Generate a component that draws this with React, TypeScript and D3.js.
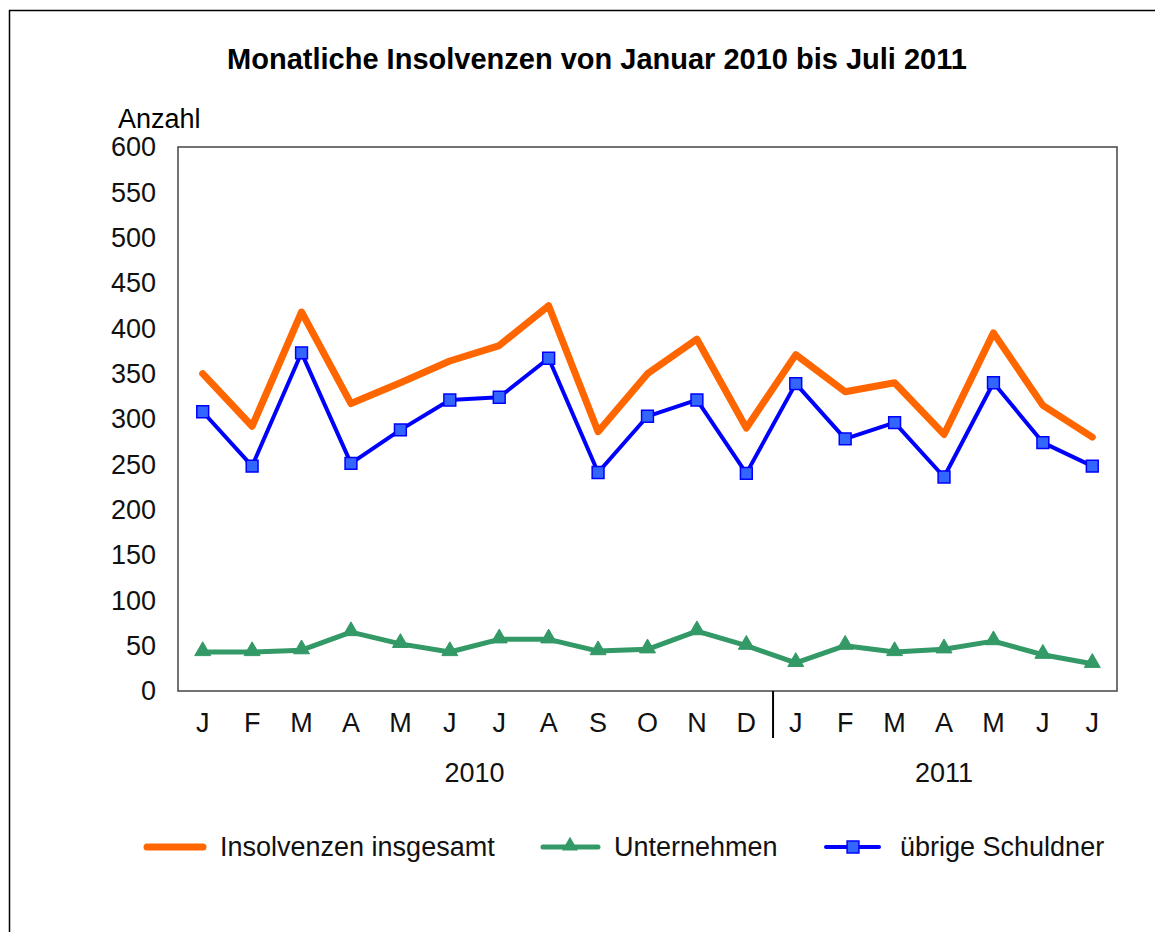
import React, { useEffect, useRef } from "react";
import * as d3 from "d3";

const months = ["J", "F", "M", "A", "M", "J", "J", "A", "S", "O", "N", "D", "J", "F", "M", "A", "M", "J", "J"];
const years = ["2010", "2011"];
const monthsPerYear = [12, 7];

const insgesamt = [350, 292, 418, 317, 340, 364, 381, 425, 286, 350, 388, 290, 371, 330, 340, 283, 395, 315, 280];
const unternehmen = [43, 43, 45, 65, 52, 43, 57, 57, 44, 46, 66, 50, 31, 50, 43, 46, 55, 40, 30];
const uebrige = [308, 248, 373, 251, 288, 321, 324, 367, 241, 303, 321, 240, 339, 278, 296, 236, 340, 274, 248];

const yTicks = [0, 50, 100, 150, 200, 250, 300, 350, 400, 450, 500, 550, 600];

const W = 1155, H = 932;
const left = 178, right = 1117, top = 147, bottom = 691;
const font = "'Liberation Sans', Arial, sans-serif";
const fs = 27;

const createChart = (node: SVGSVGElement) => {
  const svg = d3.select(node);
  svg.selectAll("*").remove();

  const idx = months.map((_, i) => i);
  const x = d3.scaleBand<number>().domain(idx).range([left, right]);
  const cx = (i: number) => (x(i) as number) + x.bandwidth() / 2;
  const y = d3.scaleLinear().domain([0, 600]).range([bottom, top]);

  // outer frame
  svg.append("rect")
    .attr("x", 9.5).attr("y", 10.5).attr("width", 1200).attr("height", 1000)
    .attr("fill", "#fff").attr("stroke", "#000").attr("stroke-width", 1.5);

  svg.append("text")
    .attr("x", 597).attr("y", 69)
    .attr("text-anchor", "middle")
    .attr("font-family", font).attr("font-weight", "bold").attr("font-size", 29)
    .text("Monatliche Insolvenzen von Januar 2010 bis Juli 2011");

  svg.append("text")
    .attr("x", 118).attr("y", 128)
    .attr("font-family", font).attr("font-size", fs)
    .text("Anzahl");

  // plot frame
  svg.append("rect")
    .attr("x", left).attr("y", top).attr("width", right - left).attr("height", bottom - top)
    .attr("fill", "none").attr("stroke", "#444").attr("stroke-width", 1.5);

  // y labels
  svg.append("g").selectAll("text").data(yTicks).join("text")
    .attr("x", 156).attr("y", (d) => y(d)).attr("dy", "0.35em")
    .attr("text-anchor", "end")
    .attr("font-family", font).attr("font-size", fs)
    .attr("fill", "#111")
    .text((d) => d);

  // month labels
  svg.append("g").selectAll("text").data(idx).join("text")
    .attr("x", (i) => cx(i)).attr("y", 732)
    .attr("text-anchor", "middle")
    .attr("font-family", font).attr("font-size", fs)
    .attr("fill", "#111")
    .text((i) => months[i]);

  // year separator + labels
  const sep = x(monthsPerYear[0]) as number;
  svg.append("line")
    .attr("x1", sep + 2).attr("x2", sep + 2).attr("y1", bottom).attr("y2", 738)
    .attr("stroke", "#000").attr("stroke-width", 2);

  let start = 0;
  years.forEach((yr, k) => {
    const n = monthsPerYear[k];
    const x0 = x(start) as number;
    const x1 = (x(start + n - 1) as number) + x.bandwidth();
    svg.append("text")
      .attr("x", (x0 + x1) / 2).attr("y", 782)
      .attr("text-anchor", "middle")
      .attr("font-family", font).attr("font-size", fs)
      .attr("fill", "#111")
      .text(yr);
    start += n;
  });

  const line = d3.line<number>().x((_, i) => cx(i)).y((d) => y(d));

  svg.append("path").datum(insgesamt)
    .attr("d", line).attr("fill", "none")
    .attr("stroke", "#FF6600").attr("stroke-width", 7)
    .attr("stroke-linejoin", "round").attr("stroke-linecap", "round");

  svg.append("path").datum(uebrige)
    .attr("d", line).attr("fill", "none")
    .attr("stroke", "#0000FF").attr("stroke-width", 4)
    .attr("stroke-linejoin", "round");

  svg.append("path").datum(unternehmen)
    .attr("d", line).attr("fill", "none")
    .attr("stroke", "#339966").attr("stroke-width", 5)
    .attr("stroke-linejoin", "round");

  const square = d3.symbol().type(d3.symbolSquare).size(140);
  const triangle = d3.symbol().type(d3.symbolTriangle).size(110);

  svg.append("g").selectAll("path").data(uebrige).join("path")
    .attr("d", square)
    .attr("transform", (d, i) => `translate(${cx(i)},${y(d)})`)
    .attr("fill", "#3366FF").attr("stroke", "#0000FF").attr("stroke-width", 1.5);

  svg.append("g").selectAll("path").data(unternehmen).join("path")
    .attr("d", triangle)
    .attr("transform", (d, i) => `translate(${cx(i)},${y(d) - 1})`)
    .attr("fill", "#339966").attr("stroke", "#339966").attr("stroke-width", 1);

  // legend
  const ly = 847;
  const legend = svg.append("g").attr("font-family", font).attr("font-size", fs).attr("fill", "#111");

  legend.append("line").attr("x1", 147).attr("x2", 203).attr("y1", ly).attr("y2", ly)
    .attr("stroke", "#FF6600").attr("stroke-width", 7).attr("stroke-linecap", "round");
  legend.append("text").attr("x", 220).attr("y", ly).attr("dy", "0.35em").text("Insolvenzen insgesamt");

  legend.append("line").attr("x1", 543).attr("x2", 598).attr("y1", ly).attr("y2", ly)
    .attr("stroke", "#339966").attr("stroke-width", 5).attr("stroke-linecap", "round");
  legend.append("path").attr("d", triangle)
    .attr("transform", `translate(570,${ly - 1})`).attr("fill", "#339966");
  legend.append("text").attr("x", 614).attr("y", ly).attr("dy", "0.35em").text("Unternehmen");

  legend.append("line").attr("x1", 826).attr("x2", 879).attr("y1", ly).attr("y2", ly)
    .attr("stroke", "#0000FF").attr("stroke-width", 4).attr("stroke-linecap", "round");
  legend.append("path").attr("d", square)
    .attr("transform", `translate(853,${ly})`)
    .attr("fill", "#3366FF").attr("stroke", "#0000FF").attr("stroke-width", 1.5);
  legend.append("text").attr("x", 900).attr("y", ly).attr("dy", "0.35em").text("übrige Schuldner");
};

export default function App() {
  const ref = useRef<SVGSVGElement>(null);
  useEffect(() => {
    if (ref.current) createChart(ref.current);
  }, []);
  return (
    <svg
      ref={ref}
      width={W}
      height={H}
      style={{ position: "absolute", left: 0, top: 0, background: "#fff" }}
    />
  );
}
